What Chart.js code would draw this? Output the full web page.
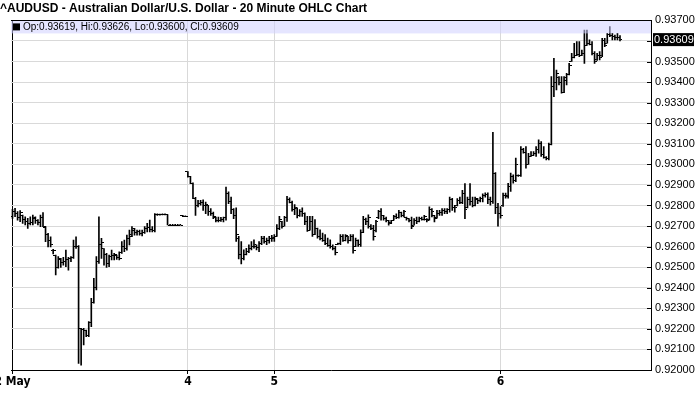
<!DOCTYPE html>
<html>
<head>
<meta charset="utf-8">
<title>AUDUSD 20 Minute OHLC</title>
<script src="https://cdn.jsdelivr.net/npm/chart.js@4.4.1/dist/chart.umd.min.js"></script>
<style>
  html, body { margin: 0; padding: 0; background: #fff; }
</style>
</head>
<body>
<canvas id="ohlcChart" width="700" height="411"></canvas>
<script>
// one bar = 20 minutes, grouped by trading day
const dayLabels = ['2 May', '4', '5', '6'];
const dayBarCounts = [69, 34, 89, 48];

const openValues = [
  // 2 May
  0.92745, 0.92770, 0.92760, 0.92740, 0.92750, 0.92730, 0.92720, 0.92710, 0.92715, 0.92735,
  0.92725, 0.92715, 0.92740, 0.92695, 0.92660, 0.92630, 0.92580, 0.92555, 0.92500, 0.92535,
  0.92525, 0.92530, 0.92535, 0.92540, 0.92545, 0.92600, 0.92600, 0.92200, 0.92195, 0.92190,
  0.92170, 0.92230, 0.92330, 0.92400, 0.92530, 0.92610, 0.92590, 0.92560, 0.92520, 0.92550,
  0.92555, 0.92555, 0.92545, 0.92570, 0.92600, 0.92590, 0.92640, 0.92660, 0.92680, 0.92670,
  0.92672, 0.92665, 0.92670, 0.92690, 0.92695, 0.92685, 0.92680, 0.92755, 0.92755, 0.92755,
  0.92755, 0.92755, 0.92705, 0.92705, 0.92705, 0.92705, 0.92705, 0.92750, 0.92748,
  // 4
  0.92963, 0.92940, 0.92908, 0.92835, 0.92800, 0.92810, 0.92815, 0.92800, 0.92800, 0.92770,
  0.92760, 0.92740, 0.92725, 0.92728, 0.92732, 0.92740, 0.92860, 0.92820, 0.92780, 0.92750,
  0.92640, 0.92560, 0.92540, 0.92560, 0.92575, 0.92590, 0.92600, 0.92600, 0.92595, 0.92615,
  0.92640, 0.92625, 0.92630, 0.92640,
  // 5
  0.92640, 0.92650, 0.92690, 0.92720, 0.92700, 0.92740, 0.92830, 0.92815, 0.92780, 0.92785,
  0.92750, 0.92770, 0.92760, 0.92720, 0.92680, 0.92720, 0.92660, 0.92690, 0.92650, 0.92640,
  0.92630, 0.92615, 0.92605, 0.92600, 0.92590, 0.92610, 0.92615, 0.92650, 0.92630, 0.92650,
  0.92630, 0.92650, 0.92600, 0.92630, 0.92610, 0.92670, 0.92730, 0.92720, 0.92700, 0.92690,
  0.92680, 0.92740, 0.92770, 0.92750, 0.92735, 0.92725, 0.92715, 0.92728, 0.92745, 0.92740,
  0.92765, 0.92750, 0.92740, 0.92735, 0.92725, 0.92705, 0.92725, 0.92720, 0.92735, 0.92730,
  0.92730, 0.92730, 0.92780, 0.92750, 0.92740, 0.92760, 0.92765, 0.92775, 0.92770, 0.92780,
  0.92830, 0.92790, 0.92800, 0.92825, 0.92815, 0.92860, 0.92790, 0.92830, 0.92820, 0.92800,
  0.92830, 0.92825, 0.92835, 0.92850, 0.92855, 0.92830, 0.92820, 0.92954, 0.92790,
  // 6
  0.92760, 0.92800, 0.92850, 0.92850, 0.92890, 0.92940, 0.92920, 0.92945, 0.92945, 0.93070,
  0.93060, 0.93000, 0.93040, 0.93045, 0.93055, 0.93070, 0.93100, 0.93050, 0.93035, 0.93030,
  0.93095, 0.93380, 0.93400, 0.93420, 0.93400, 0.93350, 0.93410, 0.93435, 0.93500, 0.93520,
  0.93530, 0.93535, 0.93530, 0.93540, 0.93580, 0.93590, 0.93585, 0.93540, 0.93510, 0.93530,
  0.93530, 0.93600, 0.93590, 0.93630, 0.93625, 0.93620, 0.93615, 0.93619
];

const highValues = [
  // 2 May
  0.92781, 0.92786, 0.92770, 0.92775, 0.92753, 0.92745, 0.92737, 0.92745, 0.92753, 0.92745,
  0.92732, 0.92753, 0.92765, 0.92697, 0.92664, 0.92648, 0.92587, 0.92559, 0.92551, 0.92543,
  0.92548, 0.92583, 0.92548, 0.92551, 0.92632, 0.92648, 0.92605, 0.92203, 0.92203, 0.92194,
  0.92235, 0.92348, 0.92446, 0.92551, 0.92745, 0.92640, 0.92591, 0.92567, 0.92559, 0.92583,
  0.92567, 0.92559, 0.92575, 0.92624, 0.92632, 0.92656, 0.92680, 0.92697, 0.92689, 0.92680,
  0.92680, 0.92680, 0.92697, 0.92713, 0.92729, 0.92697, 0.92761, 0.92760, 0.92757, 0.92756,
  0.92756, 0.92756, 0.92706, 0.92706, 0.92706, 0.92706, 0.92706, 0.92752, 0.92749,
  // 4
  0.92965, 0.92942, 0.92910, 0.92840, 0.92825, 0.92825, 0.92828, 0.92817, 0.92801, 0.92785,
  0.92768, 0.92744, 0.92744, 0.92742, 0.92744, 0.92890, 0.92866, 0.92841, 0.92785, 0.92788,
  0.92650, 0.92625, 0.92584, 0.92592, 0.92609, 0.92625, 0.92633, 0.92609, 0.92625, 0.92650,
  0.92650, 0.92642, 0.92650, 0.92655,
  // 5
  0.92658, 0.92707, 0.92747, 0.92723, 0.92747, 0.92845, 0.92837, 0.92821, 0.92804, 0.92788,
  0.92780, 0.92788, 0.92764, 0.92747, 0.92747, 0.92747, 0.92731, 0.92690, 0.92682, 0.92666,
  0.92658, 0.92641, 0.92633, 0.92609, 0.92601, 0.92617, 0.92658, 0.92658, 0.92658, 0.92650,
  0.92658, 0.92658, 0.92641, 0.92633, 0.92682, 0.92747, 0.92739, 0.92755, 0.92707, 0.92704,
  0.92728, 0.92776, 0.92785, 0.92752, 0.92744, 0.92728, 0.92728, 0.92752, 0.92760, 0.92776,
  0.92768, 0.92776, 0.92744, 0.92736, 0.92744, 0.92736, 0.92744, 0.92744, 0.92744, 0.92752,
  0.92736, 0.92793, 0.92785, 0.92752, 0.92776, 0.92776, 0.92785, 0.92785, 0.92785, 0.92841,
  0.92835, 0.92801, 0.92833, 0.92841, 0.92874, 0.92906, 0.92841, 0.92906, 0.92841, 0.92841,
  0.92833, 0.92841, 0.92857, 0.92861, 0.92861, 0.92841, 0.93156, 0.92960, 0.92811,
  // 6
  0.92795, 0.92860, 0.92860, 0.92908, 0.92957, 0.92949, 0.93030, 0.92949, 0.93086, 0.93078,
  0.93086, 0.93054, 0.93062, 0.93062, 0.93086, 0.93119, 0.93111, 0.93086, 0.93038, 0.93103,
  0.93427, 0.93516, 0.93459, 0.93427, 0.93427, 0.93427, 0.93443, 0.93491, 0.93540, 0.93589,
  0.93597, 0.93597, 0.93556, 0.93653, 0.93653, 0.93605, 0.93597, 0.93548, 0.93540, 0.93548,
  0.93613, 0.93613, 0.93637, 0.93670, 0.93637, 0.93629, 0.93637, 0.93626
];

const lowValues = [
  // 2 May
  0.92737, 0.92745, 0.92729, 0.92721, 0.92713, 0.92705, 0.92689, 0.92705, 0.92705, 0.92713,
  0.92705, 0.92697, 0.92697, 0.92624, 0.92599, 0.92599, 0.92565, 0.92462, 0.92495, 0.92499,
  0.92510, 0.92502, 0.92486, 0.92527, 0.92543, 0.92591, 0.92032, 0.92024, 0.92122, 0.92162,
  0.92162, 0.92211, 0.92325, 0.92389, 0.92518, 0.92543, 0.92510, 0.92499, 0.92502, 0.92535,
  0.92535, 0.92538, 0.92535, 0.92567, 0.92575, 0.92583, 0.92608, 0.92648, 0.92656, 0.92656,
  0.92656, 0.92652, 0.92664, 0.92672, 0.92672, 0.92672, 0.92672, 0.92752, 0.92753, 0.92754,
  0.92754, 0.92705, 0.92704, 0.92704, 0.92704, 0.92704, 0.92704, 0.92746, 0.92745,
  // 4
  0.92938, 0.92906, 0.92833, 0.92752, 0.92793, 0.92801, 0.92776, 0.92760, 0.92752, 0.92752,
  0.92736, 0.92720, 0.92720, 0.92722, 0.92720, 0.92728, 0.92809, 0.92760, 0.92736, 0.92625,
  0.92540, 0.92516, 0.92535, 0.92560, 0.92570, 0.92584, 0.92592, 0.92584, 0.92576, 0.92610,
  0.92617, 0.92609, 0.92617, 0.92625,
  // 5
  0.92625, 0.92650, 0.92682, 0.92690, 0.92700, 0.92723, 0.92812, 0.92772, 0.92755, 0.92739,
  0.92747, 0.92747, 0.92707, 0.92674, 0.92680, 0.92650, 0.92658, 0.92641, 0.92633, 0.92625,
  0.92609, 0.92601, 0.92592, 0.92584, 0.92560, 0.92609, 0.92609, 0.92625, 0.92628, 0.92617,
  0.92628, 0.92568, 0.92600, 0.92601, 0.92601, 0.92668, 0.92707, 0.92690, 0.92682, 0.92631,
  0.92671, 0.92736, 0.92728, 0.92728, 0.92720, 0.92704, 0.92712, 0.92728, 0.92736, 0.92738,
  0.92744, 0.92744, 0.92728, 0.92720, 0.92687, 0.92704, 0.92712, 0.92720, 0.92728, 0.92728,
  0.92720, 0.92728, 0.92744, 0.92720, 0.92738, 0.92752, 0.92752, 0.92760, 0.92760, 0.92768,
  0.92776, 0.92768, 0.92798, 0.92809, 0.92809, 0.92736, 0.92788, 0.92801, 0.92793, 0.92798,
  0.92809, 0.92817, 0.92817, 0.92841, 0.92809, 0.92801, 0.92810, 0.92760, 0.92700,
  // 6
  0.92738, 0.92795, 0.92835, 0.92835, 0.92868, 0.92908, 0.92916, 0.92941, 0.92941, 0.93054,
  0.92981, 0.93000, 0.93038, 0.93044, 0.93038, 0.93054, 0.93038, 0.93030, 0.93022, 0.93022,
  0.93095, 0.93329, 0.93362, 0.93386, 0.93346, 0.93348, 0.93386, 0.93435, 0.93500, 0.93518,
  0.93528, 0.93524, 0.93528, 0.93491, 0.93578, 0.93581, 0.93532, 0.93491, 0.93505, 0.93508,
  0.93524, 0.93572, 0.93589, 0.93621, 0.93605, 0.93605, 0.93605, 0.93600
];

const closeValues = [
  // 2 May
  0.92770, 0.92760, 0.92740, 0.92765, 0.92730, 0.92720, 0.92710, 0.92715, 0.92740, 0.92725,
  0.92715, 0.92740, 0.92700, 0.92660, 0.92630, 0.92610, 0.92580, 0.92500, 0.92540, 0.92525,
  0.92530, 0.92535, 0.92540, 0.92545, 0.92600, 0.92600, 0.92200, 0.92195, 0.92190, 0.92170,
  0.92230, 0.92330, 0.92400, 0.92530, 0.92610, 0.92620, 0.92560, 0.92520, 0.92550, 0.92555,
  0.92560, 0.92545, 0.92540, 0.92600, 0.92590, 0.92640, 0.92650, 0.92690, 0.92670, 0.92675,
  0.92665, 0.92670, 0.92690, 0.92695, 0.92685, 0.92680, 0.92755, 0.92758, 0.92755, 0.92755,
  0.92755, 0.92705, 0.92705, 0.92705, 0.92705, 0.92705, 0.92705, 0.92748, 0.92745,
  // 4
  0.92940, 0.92908, 0.92835, 0.92800, 0.92810, 0.92815, 0.92800, 0.92805, 0.92770, 0.92760,
  0.92745, 0.92725, 0.92728, 0.92732, 0.92740, 0.92860, 0.92820, 0.92780, 0.92750, 0.92660,
  0.92560, 0.92540, 0.92560, 0.92575, 0.92590, 0.92600, 0.92610, 0.92595, 0.92615, 0.92640,
  0.92625, 0.92630, 0.92640, 0.92645,
  // 5
  0.92650, 0.92690, 0.92730, 0.92700, 0.92740, 0.92830, 0.92815, 0.92780, 0.92790, 0.92750,
  0.92770, 0.92760, 0.92720, 0.92680, 0.92720, 0.92660, 0.92690, 0.92650, 0.92640, 0.92630,
  0.92615, 0.92605, 0.92600, 0.92590, 0.92570, 0.92615, 0.92650, 0.92630, 0.92655, 0.92630,
  0.92650, 0.92580, 0.92630, 0.92610, 0.92670, 0.92730, 0.92720, 0.92740, 0.92690, 0.92650,
  0.92720, 0.92770, 0.92750, 0.92735, 0.92725, 0.92710, 0.92725, 0.92745, 0.92740, 0.92765,
  0.92750, 0.92770, 0.92735, 0.92725, 0.92700, 0.92725, 0.92720, 0.92735, 0.92730, 0.92745,
  0.92725, 0.92780, 0.92770, 0.92735, 0.92760, 0.92765, 0.92775, 0.92770, 0.92780, 0.92830,
  0.92790, 0.92790, 0.92825, 0.92815, 0.92860, 0.92780, 0.92830, 0.92820, 0.92800, 0.92835,
  0.92825, 0.92835, 0.92850, 0.92855, 0.92830, 0.92820, 0.92954, 0.92790, 0.92760,
  // 6
  0.92750, 0.92850, 0.92845, 0.92890, 0.92940, 0.92920, 0.93000, 0.92945, 0.93070, 0.93060,
  0.93000, 0.93040, 0.93045, 0.93055, 0.93070, 0.93100, 0.93050, 0.93035, 0.93030, 0.93095,
  0.93380, 0.93400, 0.93440, 0.93400, 0.93350, 0.93420, 0.93435, 0.93480, 0.93520, 0.93530,
  0.93535, 0.93530, 0.93540, 0.93580, 0.93590, 0.93585, 0.93540, 0.93500, 0.93530, 0.93520,
  0.93600, 0.93580, 0.93630, 0.93625, 0.93620, 0.93615, 0.93619, 0.93609
];

const priceMin = 0.92;
const priceMax = 0.937;
const priceStep = 0.001;

// first bar of each day, used for the date ticks
const dayStarts = [];
let barCount = 0;
dayBarCounts.forEach(n => { dayStarts.push(barCount); barCount += n; });

const lastIndex = closeValues.length - 1;
const lastClose = closeValues[lastIndex];

const fontFamily = "'Liberation Sans', Arial, sans-serif";
Chart.defaults.font.family = fontFamily;
Chart.defaults.color = '#000';

// open tick sits left of the stem, close tick right of it
function makeTick(side) {
    const c = document.createElement('canvas');
    c.width = 5;
    c.height = 1;
    const g = c.getContext('2d');
    g.fillStyle = '#000';
    g.fillRect(side === 'left' ? 0 : 3, 0, 2, 1);
    return c;
}

const overlayPlugin = {
    id: 'overlay',
    afterDatasetsDraw(chart) {
        const { ctx, chartArea: area } = chart;
        const yScale = chart.scales.y;
        ctx.save();

        // legend strip
        ctx.fillStyle = 'rgba(208, 208, 255, 0.55)';
        ctx.fillRect(area.left, area.top, area.right - area.left, 13);

        ctx.strokeStyle = '#000';
        ctx.lineWidth = 1;
        ctx.beginPath();
        const top = Math.round(area.top) + 0.5;
        ctx.moveTo(area.left, top);
        ctx.lineTo(area.right, top);
        yScale.ticks.forEach(t => {
            const py = Math.round(yScale.getPixelForValue(t.value)) + 0.5;
            ctx.moveTo(area.right - 4, py);
            ctx.lineTo(area.right, py);
        });
        ctx.stroke();

        const legendText = 'Op:' + openValues[lastIndex].toFixed(5) +
            ', Hi:' + highValues[lastIndex].toFixed(5) +
            ', Lo:' + lowValues[lastIndex].toFixed(5) +
            ', Cl:' + closeValues[lastIndex].toFixed(5);
        ctx.fillStyle = '#000';
        ctx.fillRect(area.left + 2, area.top + 3, 7, 7);
        ctx.font = '10px ' + fontFamily;
        ctx.textBaseline = 'middle';
        ctx.textAlign = 'left';
        ctx.fillText(legendText, area.left + 12, area.top + 7);

        // last price marker on the axis
        const py = yScale.getPixelForValue(lastClose);
        ctx.fillRect(area.right + 2, py - 6, 41, 13);
        ctx.fillStyle = '#fff';
        ctx.font = '11px ' + fontFamily;
        ctx.fillText(lastClose.toFixed(5), area.right + 3, py + 0.5);

        ctx.restore();
    }
};

const barIndex = closeValues.map((v, i) => i);

const data = {
    datasets: [
        {
            type: 'line',
            label: 'Open',
            data: barIndex.map(i => ({ x: i, y: openValues[i] })),
            showLine: false,
            pointStyle: makeTick('left'),
            pointRadius: 2,
            pointHoverRadius: 2
        },
        {
            type: 'line',
            label: 'Close',
            data: barIndex.map(i => ({ x: i, y: closeValues[i] })),
            showLine: false,
            pointStyle: makeTick('right'),
            pointRadius: 2,
            pointHoverRadius: 2
        },
        {
            type: 'bar',
            label: 'High-Low',
            data: barIndex.map(i => ({ x: i, y: [lowValues[i], highValues[i]] })),
            backgroundColor: '#000',
            borderWidth: 0,
            barThickness: 1,
            minBarLength: 1,
            grouped: false
        }
    ]
};

const options = {
    responsive: false,
    animation: false,
    events: [],
    devicePixelRatio: 1,
    layout: { padding: 0 },
    plugins: {
        legend: { display: false },
        tooltip: { enabled: false },
        title: {
            display: true,
            text: '^AUDUSD - Australian Dollar/U.S. Dollar - 20 Minute OHLC Chart',
            align: 'start',
            color: '#000',
            font: { size: 12, weight: 'bold', family: fontFamily },
            padding: { top: 1, bottom: 5 }
        }
    },
    scales: {
        x: {
            type: 'linear',
            offset: false,
            min: -0.59,
            max: 251.2,
            afterBuildTicks: axis => { axis.ticks = dayStarts.map(v => ({ value: v })); },
            afterFit: axis => { axis.height = 41; axis.paddingLeft = 11; axis.paddingRight = 0; },
            ticks: {
                autoSkip: false,
                maxRotation: 0,
                padding: 1,
                color: '#000',
                font: { size: 12, weight: 'bold', family: "'Liberation Sans Narrow', 'DejaVu Sans Condensed', Arial, sans-serif" },
                callback: (value, index) => dayLabels[index]
            },
            grid: {
                offset: false,
                color: ctx => ctx.index === 0 ? '#000' : '#d9d9d9',
                tickColor: '#000',
                tickLength: 4
            },
            border: { color: '#000', width: 1 }
        },
        y: {
            position: 'right',
            min: priceMin,
            max: priceMax,
            afterFit: axis => { axis.width = 49; },
            ticks: {
                stepSize: priceStep,
                padding: 4,
                color: '#000',
                font: { size: 11, family: fontFamily },
                callback: value => Math.abs(value - lastClose) < 0.0004 ? '' : value.toFixed(5)
            },
            grid: { color: '#d9d9d9', drawTicks: false },
            border: { color: '#000', width: 1 }
        }
    }
};

new Chart(document.getElementById('ohlcChart'), {
    type: 'bar',
    data: data,
    options: options,
    plugins: [overlayPlugin]
});
</script>
</body>
</html>
